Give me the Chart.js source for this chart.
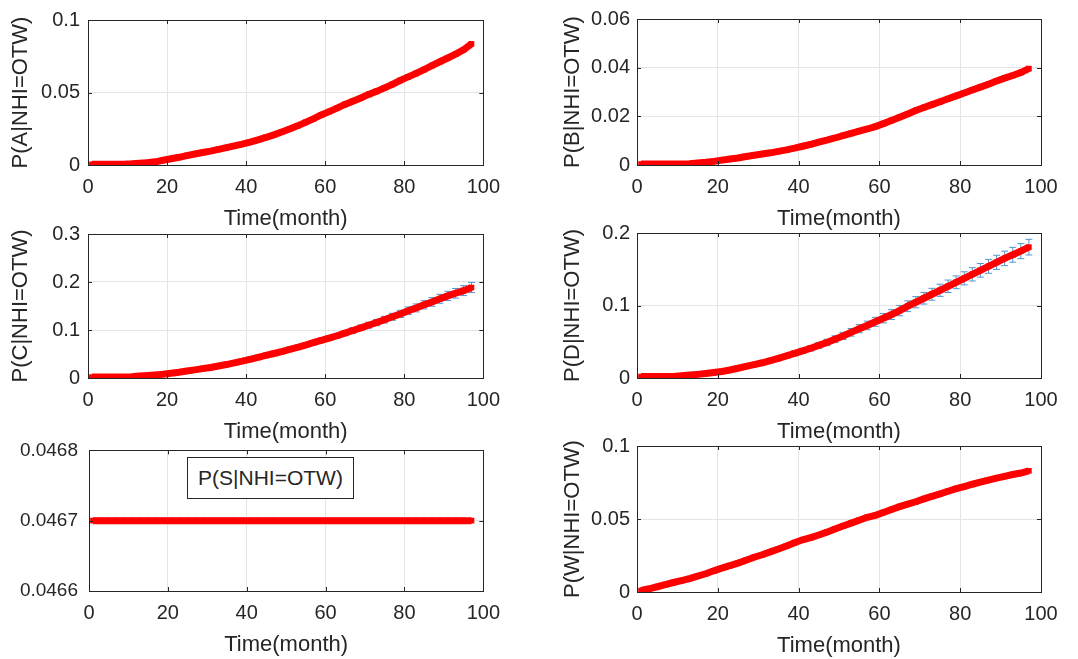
<!DOCTYPE html>
<html><head><meta charset="utf-8">
<script src="https://cdn.jsdelivr.net/npm/chart.js@4.4.1/dist/chart.umd.min.js"></script>
<style>
html,body{margin:0;padding:0;background:#fff;}
body{width:1078px;height:659px;position:relative;overflow:hidden;}
canvas.p{position:absolute;}
#sbox{position:absolute;left:187px;top:457px;width:167px;height:42px;border:1px solid #262626;background:#fff;font:21px 'Liberation Sans',Arial,sans-serif;color:#262626;display:flex;align-items:center;justify-content:center;box-sizing:border-box;z-index:5;}
</style></head><body>
<canvas id="cA" class="p"></canvas>
<canvas id="cB" class="p"></canvas>
<canvas id="cC" class="p"></canvas>
<canvas id="cD" class="p"></canvas>
<canvas id="cS" class="p"></canvas>
<canvas id="cW" class="p"></canvas>
<div id="sbox">P(S|NHI=OTW)</div>
<script>
// ---- data ----
const months = [1,3,5,7,9,11,13,15,17,19,21,23,25,27,29,31,33,35,37,39,41,43,45,47,49,51,53,55,57,59,61,63,65,67,69,71,73,75,77,79,81,83,85,87,89,91,93,95,97];
const probA = [0.0005,0.0005,0.0005,0.0005,0.0006,0.0008,0.0012,0.0016,0.0022,0.0033,0.0043,0.0053,0.0065,0.0076,0.0086,0.0096,0.0108,0.012,0.0132,0.0144,0.0158,0.0174,0.019,0.0208,0.0228,0.0248,0.027,0.0294,0.0318,0.0345,0.0368,0.0392,0.0418,0.044,0.0462,0.0487,0.0508,0.0532,0.0556,0.0584,0.0608,0.0632,0.0658,0.0685,0.0712,0.0738,0.0765,0.0795,0.0835];
const probB = [0.0004,0.0004,0.0004,0.0004,0.0004,0.0004,0.0005,0.0008,0.0011,0.0015,0.002,0.0025,0.0029,0.0035,0.004,0.0045,0.005,0.0056,0.0062,0.0069,0.0077,0.0085,0.0094,0.0102,0.0111,0.0121,0.013,0.0139,0.0148,0.0158,0.017,0.0183,0.0196,0.021,0.0224,0.0236,0.0248,0.026,0.0272,0.0284,0.0296,0.0308,0.032,0.0332,0.0345,0.0357,0.0368,0.038,0.0396];
const probC = [0.002,0.002,0.002,0.002,0.002,0.0025,0.004,0.005,0.0065,0.008,0.01,0.012,0.0145,0.017,0.0195,0.022,0.025,0.028,0.0315,0.035,0.039,0.043,0.047,0.051,0.055,0.0595,0.064,0.0685,0.0735,0.0785,0.083,0.088,0.0935,0.099,0.1045,0.11,0.1155,0.1215,0.1275,0.1335,0.14,0.146,0.1525,0.1585,0.165,0.171,0.1765,0.182,0.1885];
const errC = [0.0005,0.0005,0.0005,0.0005,0.0005,0.0005,0.0005,0.0005,0.0005,0.0005,0.0005,0.0005,0.0005,0.0005,0.0005,0.001,0.001,0.0012,0.0014,0.0016,0.0018,0.002,0.0022,0.0025,0.0028,0.003,0.0033,0.0036,0.004,0.0043,0.0046,0.005,0.0053,0.0056,0.006,0.0063,0.0066,0.007,0.0073,0.0076,0.008,0.0083,0.0086,0.009,0.0093,0.0096,0.01,0.0103,0.0106];
const probD = [0.002,0.002,0.002,0.002,0.002,0.003,0.004,0.005,0.0062,0.0075,0.009,0.011,0.0135,0.016,0.0185,0.021,0.024,0.027,0.0305,0.034,0.0375,0.041,0.045,0.049,0.0535,0.058,0.063,0.068,0.0725,0.0775,0.0825,0.0875,0.093,0.099,0.1045,0.11,0.1155,0.121,0.1265,0.132,0.1375,0.143,0.1485,0.154,0.1595,0.165,0.17,0.175,0.1805];
const errD = [0.0005,0.0005,0.0005,0.0005,0.0005,0.0005,0.0005,0.0005,0.0005,0.0005,0.001,0.0012,0.0014,0.0016,0.0018,0.002,0.0023,0.0026,0.0029,0.0032,0.0035,0.0038,0.0041,0.0044,0.0047,0.005,0.0053,0.0056,0.0059,0.0062,0.0065,0.0068,0.0071,0.0074,0.0077,0.008,0.0082,0.0084,0.0086,0.0088,0.009,0.0092,0.0094,0.0096,0.0098,0.01,0.0102,0.0104,0.0108];
const probS = [0.0467,0.0467,0.0467,0.0467,0.0467,0.0467,0.0467,0.0467,0.0467,0.0467,0.0467,0.0467,0.0467,0.0467,0.0467,0.0467,0.0467,0.0467,0.0467,0.0467,0.0467,0.0467,0.0467,0.0467,0.0467,0.0467,0.0467,0.0467,0.0467,0.0467,0.0467,0.0467,0.0467,0.0467,0.0467,0.0467,0.0467,0.0467,0.0467,0.0467,0.0467,0.0467,0.0467,0.0467,0.0467,0.0467,0.0467,0.0467,0.0467];
const probW = [0.001,0.0022,0.0036,0.005,0.0065,0.0078,0.0092,0.0108,0.0125,0.0145,0.0163,0.018,0.0198,0.0218,0.0238,0.0255,0.0275,0.0295,0.0315,0.0338,0.0358,0.0372,0.039,0.041,0.0432,0.0452,0.0472,0.0492,0.0512,0.0525,0.0545,0.0565,0.0585,0.0602,0.0618,0.0638,0.0655,0.0672,0.069,0.0708,0.0722,0.0738,0.0752,0.0766,0.078,0.0792,0.0805,0.0815,0.083];
const xTicks = [0,20,40,60,80,100];
const yTicksA = [0,0.05,0.1];
const yTicksB = [0,0.02,0.04,0.06];
const yTicksC = [0,0.1,0.2,0.3];
const yTicksD = [0,0.1,0.2];
const yTicksS = [0.0466,0.0467,0.0468];
const yTicksW = [0,0.05,0.1];
const xTitle = 'Time(month)';

// ---- plugins ----
const INK = '#262626';
const FONT = "'Liberation Sans', Arial, sans-serif";
const errorBars = {
  id:'errorBars',
  beforeDatasetsDraw(chart){
    const {ctx, scales:{x,y}} = chart;
    chart.data.datasets.forEach(ds=>{
      if(!ds.errors) return;
      ctx.save();
      ctx.strokeStyle = '#4f96cf';
      ctx.lineWidth = 1;
      ds.data.forEach((p,i)=>{
        const e = ds.errors[i];
        const px = x.getPixelForValue(p.x);
        const y1 = y.getPixelForValue(p.y - e), y2 = y.getPixelForValue(p.y + e);
        ctx.beginPath();
        ctx.moveTo(px,y1); ctx.lineTo(px,y2);
        ctx.moveTo(px-3.5,y1); ctx.lineTo(px+3.5,y1);
        ctx.moveTo(px-3.5,y2); ctx.lineTo(px+3.5,y2);
        ctx.stroke();
      });
      ctx.restore();
    });
  }
};
const axisBox = {
  id:'axisBox',
  afterDraw(chart){
    const {ctx, chartArea:a, scales:{x,y}} = chart;
    ctx.save();
    ctx.strokeStyle = INK; ctx.lineWidth = 1;
    ctx.strokeRect(Math.round(a.left)+0.5, Math.round(a.top)+0.5, Math.round(a.right-a.left), Math.round(a.bottom-a.top));
    ctx.beginPath();
    x.ticks.forEach(t=>{
      const px = Math.round(x.getPixelForValue(t.value))+0.5;
      ctx.moveTo(px,a.bottom); ctx.lineTo(px,a.bottom-4);
      ctx.moveTo(px,a.top); ctx.lineTo(px,a.top+4);
    });
    y.ticks.forEach(t=>{
      const py = Math.round(y.getPixelForValue(t.value))+0.5;
      ctx.moveTo(a.left,py); ctx.lineTo(a.left+4,py);
      ctx.moveTo(a.right,py); ctx.lineTo(a.right-4,py);
    });
    ctx.stroke();
    ctx.restore();
  }
};

function panel(id, pos, vals, errs, yTicks, yTitle){
  const cv = document.getElementById(id);
  cv.width = pos.w; cv.height = pos.h;
  cv.style.left = pos.l+'px'; cv.style.top = pos.t+'px';
  const ds = {
    data: months.map((m,i)=>({x:m, y:vals[i]})),
    borderColor:'#ff0000', backgroundColor:'#ff0000',
    borderWidth:7, pointStyle:'rect', pointRadius:4, pointBorderWidth:0,
    pointHoverRadius:4, tension:0
  };
  if(errs) ds.errors = errs;
  new Chart(cv, {
    type:'line',
    data:{datasets:[ds]},
    plugins:[errorBars, axisBox],
    options:{
      responsive:false, animation:false, devicePixelRatio:1,
      layout:{padding:{left:0, top:16, right:pos.w-pos.plotR, bottom:0}},
      plugins:{legend:{display:false}, tooltip:{enabled:false}},
      scales:{
        x:{
          type:'linear', min:0, max:100,
          afterBuildTicks:s=>{ s.ticks = xTicks.map(v=>({value:v})); },
          afterFit:s=>{ s.height = 67; },
          grid:{color:'#e4e4e4', drawTicks:false},
          border:{display:false},
          ticks:{padding:10, color:INK, font:{family:FONT, size:20}, maxRotation:0, callback:v=>String(v)},
          title:{display:true, text:xTitle, color:INK, font:{family:FONT, size:22}, padding:{top:0,bottom:0}}
        },
        y:{
          type:'linear', min:yTicks[0], max:yTicks[yTicks.length-1],
          afterBuildTicks:s=>{ s.ticks = yTicks.map(v=>({value:v})); },
          afterFit:s=>{ s.width = pos.yw; },
          grid:{color:'#e4e4e4', drawTicks:false},
          border:{display:false},
          ticks:{padding:pos.yp, color:INK, font:{family:FONT, size:pos.yf||20}, callback:v=>String(+(+v).toFixed(6))},
          title:{display:!!yTitle, text:yTitle||'', color:INK, font:{family:FONT, size:22}, padding:{top:pos.tp, bottom:0}}
        }
      }
    }
  });
}

panel('cA', {l:0,   t:0,   w:510, h:232, plotR:491, yw:88, yp:8, tp:8}, probA, null, yTicksA, 'P(A|NHI=OTW)');
panel('cB', {l:540, t:0,   w:538, h:232, plotR:501, yw:97, yp:7, tp:20}, probB, null, yTicksB, 'P(B|NHI=OTW)');
panel('cC', {l:0,   t:214, w:510, h:231, plotR:491, yw:88, yp:8, tp:8}, probC, errC, yTicksC, 'P(C|NHI=OTW)');
panel('cD', {l:540, t:214, w:538, h:231, plotR:501, yw:97, yp:7, tp:20}, probD, errD, yTicksD, 'P(D|NHI=OTW)');
panel('cS', {l:0,   t:428, w:510, h:230, plotR:492, yw:89, yp:11, tp:0, yf:19}, probS, null, yTicksS, null);
panel('cW', {l:540, t:427, w:538, h:232, plotR:501, yw:97, yp:7, tp:20}, probW, null, yTicksW, 'P(W|NHI=OTW)');
</script>
</body></html>
